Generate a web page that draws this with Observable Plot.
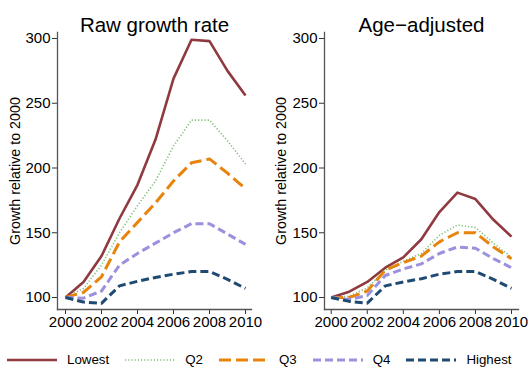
<!DOCTYPE html>
<html>
<head>
<meta charset="utf-8">
<script src="https://cdn.jsdelivr.net/npm/d3@7"></script>
<script src="https://cdn.jsdelivr.net/npm/@observablehq/plot@0.6"></script>
<style>
  body { margin: 0; background: #fff; font-family: "Liberation Sans", Arial, sans-serif; }
  #wrap { width: 528px; }
  #charts { display: flex; }
  #legend { display: flex; align-items: center; margin-top: 12px; padding-left: 7px; height: 16px; font-size: 13.3px; line-height: 16px; color: #000; }
  .item { display: flex; align-items: center; margin-right: 16px; }
  .item span { margin-left: 10px; }
</style>
</head>
<body>
<div id="wrap">
  <div id="charts"></div>
  <div id="legend"></div>
</div>
<script>
const years = [2000, 2001, 2002, 2003, 2004, 2005, 2006, 2007, 2008, 2009, 2010];
const groups = ["Lowest", "Q2", "Q3", "Q4", "Highest"];
const panelTitles = ["Raw growth rate", "Age\u2212adjusted"];
const yLabel = "Growth relative to 2000";
const yTicks = [100, 150, 200, 250, 300];
const xTicks = [2000, 2002, 2004, 2006, 2008, 2010];

const rawLowest  = [100, 112, 132, 161, 187, 222, 269, 299, 298, 275, 256];
const rawQ2      = [100, 107, 125, 150, 171, 190, 217, 237, 237, 221, 203];
const rawQ3      = [100, 104, 116, 143, 158, 173, 190, 204, 207, 196, 184];
const rawQ4      = [100, 99.5, 105, 125, 134, 142, 150, 157, 157, 149, 141];
const rawHighest = [100, 96.5, 95.5, 109, 112.5, 115.5, 118, 120, 120, 114, 107];

const adjLowest  = [100, 104.5, 112, 123, 131, 145, 166, 181, 176, 160, 147];
const adjQ2      = [100, 101, 107.5, 121, 128, 134, 148, 156, 154, 142, 131];
const adjQ3      = [100, 100, 105, 121, 127, 132, 143, 150, 150, 139, 130];
const adjQ4      = [100, 98.5, 101.5, 117, 122, 126, 134, 139, 138, 130, 123];
const adjHighest = [100, 97, 95.6, 109, 112, 114.5, 118, 120, 120, 114, 107];

const colors = ["#8f3a40", "#7fbf76", "#e8830c", "#9b91dc", "#1f4a72"];
const dashes = [null, "1.2,2", "12,5", "8,4", "8,4"];
const widths = [2.6, 1.6, 3, 3, 3];

function toRows(series) {
  const rows = [];
  series.forEach((vals, gi) => vals.forEach((v, i) => rows.push({year: years[i], value: v, group: groups[gi]})));
  return rows;
}
const panels = [
  toRows([rawLowest, rawQ2, rawQ3, rawQ4, rawHighest]),
  toRows([adjLowest, adjQ2, adjQ3, adjQ4, adjHighest])
];
const layouts = [
  {marginLeft: 57, marginRight: 13, insetLeft: 8, insetRight: 6, labelDx: -42},
  {marginLeft: 60, marginRight: 10, insetLeft: 6.7, insetRight: 7, labelDx: -43}
];

const font = '"Liberation Sans", Arial, sans-serif';
panels.forEach((rows, p) => {
  const L = layouts[p];
  const marks = [
    Plot.axisY({ticks: yTicks, tickSize: 5, tickPadding: 2, fontSize: 15, label: null, stroke: "#333"}),
    Plot.axisX({ticks: xTicks, tickSize: 5, tickPadding: 2, fontSize: 15, label: null, tickFormat: d => String(d), stroke: "#333"}),
    Plot.frame({anchor: "left", stroke: "#555", strokeWidth: 1.3}),
    Plot.frame({anchor: "bottom", stroke: "#555", strokeWidth: 1.3}),
    Plot.text([panelTitles[p]], {frameAnchor: "top", dy: -15, fontSize: 20.5, fill: "#000"}),
    Plot.text([yLabel], {frameAnchor: "left", textAnchor: "middle", dx: L.labelDx, rotate: -90, fontSize: 14.3, fill: "#000"})
  ];
  groups.forEach((g, gi) => {
    marks.push(Plot.line(rows.filter(r => r.group === g), {
      x: "year", y: "value",
      stroke: colors[gi], strokeWidth: widths[gi],
      strokeDasharray: dashes[gi] || undefined,
      strokeLinejoin: "round", strokeLinecap: "butt"
    }));
  });
  const chart = Plot.plot({
    width: 264, height: 340,
    marginLeft: L.marginLeft, marginRight: L.marginRight, marginTop: 32, marginBottom: 31,
    style: {fontFamily: font, color: "#000", background: "#fff"},
    x: {domain: [2000, 2010], insetLeft: L.insetLeft, insetRight: L.insetRight},
    y: {domain: [100, 300], insetTop: 6, insetBottom: 12},
    marks
  });
  document.getElementById("charts").appendChild(chart);
});

const legend = d3.select("#legend");
groups.forEach((g, gi) => {
  const item = legend.append("div").attr("class", "item");
  const svg = item.append("svg").attr("width", 50).attr("height", 8);
  svg.append("line").attr("x1", 0).attr("x2", 50).attr("y1", 4).attr("y2", 4)
    .attr("stroke", colors[gi]).attr("stroke-width", widths[gi])
    .attr("stroke-dasharray", dashes[gi]);
  item.append("span").text(g);
});
</script>
</body>
</html>
